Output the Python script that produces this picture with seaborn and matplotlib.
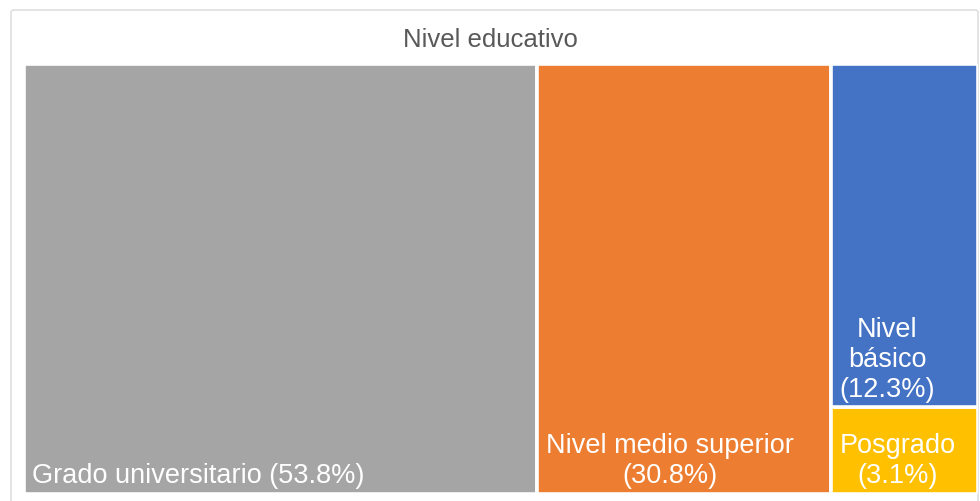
import matplotlib
matplotlib.use("Agg")
import matplotlib.pyplot as plt
from matplotlib.patches import FancyBboxPatch
import seaborn as sns

# Education level shares (percent)
categories = ["Grado universitario", "Nivel medio superior", "Nivel básico", "Posgrado"]
values = [53.8, 30.8, 12.3, 3.1]
labels = [
    "Grado universitario (53.8%)",
    "Nivel medio superior\n(30.8%)",
    "Nivel\nbásico\n(12.3%)",
    "Posgrado\n(3.1%)",
]
colors = ["#A5A5A5", "#ED7D31", "#4472C4", "#FFC000"]
# Columns of the treemap: each inner list holds category indices stacked in one column
columns = [[0], [1], [3, 2]]
title = "Nivel educativo"

sns.set_theme(style="white")
plt.rcParams["font.family"] = ["Liberation Sans", "DejaVu Sans"]

W, H, DPI = 980, 502, 100
fig = plt.figure(figsize=(W / DPI, H / DPI), dpi=DPI)
fig.patch.set_facecolor("white")

# Light chart-area frame
frame = FancyBboxPatch((11 / W, -0.05), 967 / W, 1 - 11 / H + 0.05,
                       boxstyle="round,pad=0,rounding_size=0.004",
                       transform=fig.transFigure, facecolor="none",
                       edgecolor="#D9D9D9", linewidth=1.0, zorder=-1)
fig.patches.append(frame)

# Plot area in pixels (left, top, right, bottom)
x0, y0, x1, y1 = 23.5, 64.5, 977.5, 494.5
ax = fig.add_axes([x0 / W, 1 - y1 / H, (x1 - x0) / W, (y1 - y0) / H])
ax.set_xlim(0, sum(values))
ax.set_ylim(0, 1)
ax.axis("off")

gap_lw = 2.6  # white separators between cells, in points
left = 0.0
for col in columns:
    col_total = sum(values[i] for i in col)
    bottom = 0.0
    for i in col:
        h = values[i] / col_total
        ax.bar(left, h, width=col_total, bottom=bottom, align="edge",
               color=colors[i], edgecolor="white", linewidth=gap_lw, zorder=2)
        ax.annotate(labels[i], xy=(left, bottom), xycoords="data",
                    xytext=(9, 5), textcoords="offset pixels",
                    ha="left", va="bottom", multialignment="center",
                    color="white", fontsize=19.5, linespacing=1.2, zorder=3)
        bottom += h
    left += col_total

fig.text(0.5, 1 - 40 / H, title, ha="center", va="center",
         fontsize=18.5, color="#595959")

fig.savefig("out.png", dpi=DPI, facecolor="white")
